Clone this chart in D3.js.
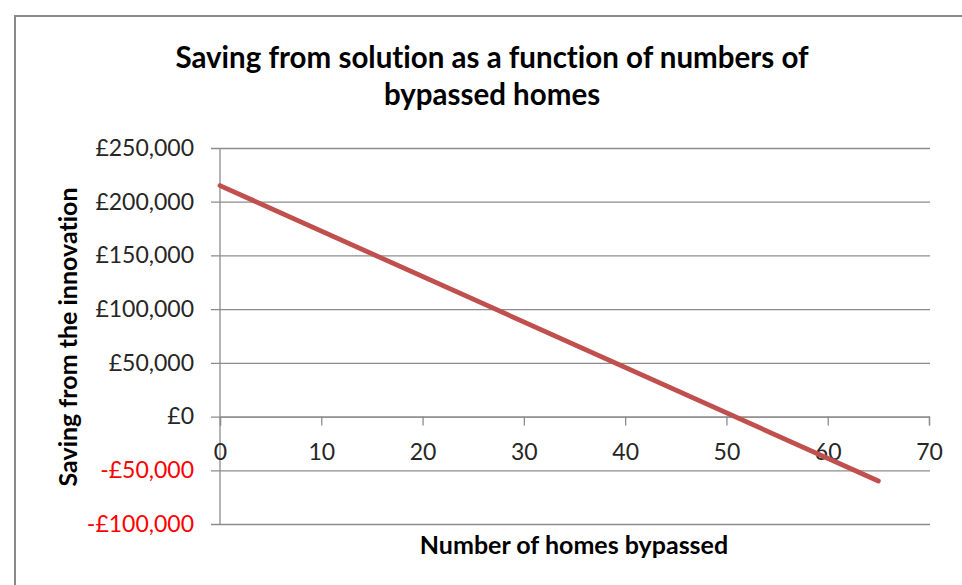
<!DOCTYPE html>
<html>
<head>
<meta charset="utf-8">
<script src="https://cdn.jsdelivr.net/npm/d3@7/dist/d3.min.js"></script>
<style>
  html, body { margin: 0; padding: 0; background: #fff; }
  svg { display: block; }
  text { font-family: Lato, "Open Sans", sans-serif; font-variant-ligatures: none; }
</style>
</head>
<body>
<svg id="chart" width="962" height="585"></svg>
<script>
// Homes bypassed (x) and saving in pounds (y)
const homesBypassed = [0, 65];
const savings = [215000, -60000];

// Axis ticks
const xTicks = [0, 10, 20, 30, 40, 50, 60, 70];
const yTicks = [-100000, -50000, 0, 50000, 100000, 150000, 200000, 250000];

const titleLines = ["Saving from solution as a function of numbers of", "bypassed homes"];
const xTitle = "Number of homes bypassed";
const yTitle = "Saving from the innovation";

const svg = d3.select("#chart");
const W = 962, H = 585;
const FONT = "Lato, 'Open Sans', sans-serif";

// Outer chart frame
svg.append("path")
  .attr("d", `M15,${H} L15,16 L${W},16`)
  .attr("fill", "none")
  .attr("stroke", "#8a8a8a")
  .attr("stroke-width", 2);

const plot = { left: 220, right: 929, top: 148, bottom: 524 };

const x = d3.scaleLinear().domain([0, 70]).range([plot.left, plot.right]);
const y = d3.scaleLinear().domain([-100000, 250000]).range([plot.bottom, plot.top]);

const gridColor = "#8c8c8c";

// Horizontal gridlines with short outward ticks
const grid = svg.append("g")
  .attr("transform", `translate(${plot.left - 9},0)`)
  .call(d3.axisLeft(y).tickValues(yTicks).tickSize(-(plot.right + 1 - plot.left + 9)).tickFormat(""));
grid.select(".domain").remove();
grid.selectAll(".tick line").attr("stroke", gridColor).attr("stroke-width", 1.3);

// Y axis line
svg.append("line")
  .attr("x1", plot.left).attr("x2", plot.left)
  .attr("y1", y(250000)).attr("y2", y(-100000))
  .attr("stroke", gridColor).attr("stroke-width", 1.3);

// Y tick labels
const fmt = d3.format(",");
const yLab = svg.append("g")
  .attr("transform", `translate(${plot.left},0)`)
  .call(d3.axisLeft(y).tickValues(yTicks).tickSize(0).tickPadding(26)
    .tickFormat(v => (v < 0 ? "-£" : "£") + fmt(Math.abs(v))));
yLab.select(".domain").remove();
yLab.selectAll("text")
  .attr("font-size", 23)
  .attr("font-family", FONT)
  .attr("fill", v => v < 0 ? "#ff0000" : "#262626");

// X axis along zero
const xAxis = svg.append("g")
  .attr("transform", `translate(0,${y(0)})`)
  .call(d3.axisBottom(x).tickValues(xTicks).tickSize(9).tickPadding(18));
xAxis.select(".domain").attr("stroke", gridColor).attr("stroke-width", 1.3);
xAxis.selectAll(".tick line").attr("stroke", gridColor).attr("stroke-width", 1.3);
xAxis.selectAll("text")
  .attr("font-size", 23)
  .attr("font-family", FONT)
  .attr("fill", "#262626");

// Savings line
const pts = homesBypassed.map((h, i) => [h, savings[i]]);
svg.append("path")
  .datum(pts)
  .attr("d", d3.line().x(d => x(d[0])).y(d => y(d[1])))
  .attr("fill", "none")
  .attr("stroke", "#c0504d")
  .attr("stroke-width", 4.8)
  .attr("stroke-linecap", "round");

// Title
svg.append("text")
  .attr("x", 492).attr("y", 68)
  .attr("text-anchor", "middle")
  .attr("font-size", 29.5).attr("font-weight", "bold")
  .attr("font-family", FONT)
  .attr("fill", "#000")
  .selectAll("tspan").data(titleLines).join("tspan")
  .attr("x", 492).attr("dy", (d, i) => i ? 37 : 0)
  .text(d => d);

// Axis titles
svg.append("text")
  .attr("x", 574).attr("y", 554)
  .attr("text-anchor", "middle")
  .attr("font-size", 25).attr("font-weight", "bold")
  .attr("font-family", FONT)
  .attr("fill", "#000")
  .text(xTitle);

svg.append("text")
  .attr("transform", `translate(77,337) rotate(-90)`)
  .attr("text-anchor", "middle")
  .attr("font-size", 25).attr("font-weight", "bold")
  .attr("font-family", FONT)
  .attr("fill", "#000")
  .text(yTitle);
</script>
</body>
</html>
